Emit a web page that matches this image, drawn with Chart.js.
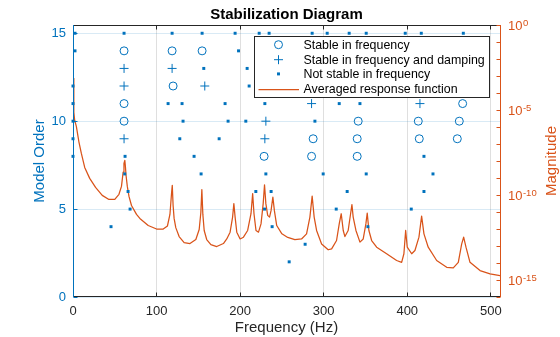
<!DOCTYPE html>
<html>
<head>
<meta charset="utf-8">
<script src="https://cdn.jsdelivr.net/npm/chart.js@4/dist/chart.umd.min.js"></script>
<style>
  html, body { margin: 0; padding: 0; background: #fff; }
  #wrap { width: 560px; height: 337px; }
</style>
</head>
<body>
<div id="wrap"><canvas id="c" width="560" height="337"></canvas></div>
<script>
const FONT = "'Liberation Sans', Arial, Helvetica, sans-serif";
const BLUE = '#0072BD';
const ORANGE = '#D95319';
const INK = '#262626';

// Axis ticks
const freqTicks = [0, 100, 200, 300, 400, 500];
const orderTicks = [0, 5, 10, 15];
const magDecades = [0, -1, -2, -3, -4, -5, -6, -7, -8, -9, -10, -11, -12, -13, -14, -15, -16];
const magLabelExps = [0, -5, -10, -15];

// Poles stable in frequency (Hz, model order)
const stableFreqHz    = [61.1, 118.6, 154.5, 119.8, 61.1, 466.3, 61.1, 341.3, 413.2, 462.3, 287.4, 340.1, 414.4, 459.9, 228.7, 285.5, 340.1];
const stableFreqOrder = [14,   14,    14,    12,    11,   11,    10,   10,    10,    10,    9,     9,     9,     9,     8,     8,     8];

// Poles stable in frequency and damping
const stableDampHz    = [61.1, 118.6, 61.1, 157.7, 285.5, 415.2, 230.8, 61.1, 229.6];
const stableDampOrder = [13,   13,    12,   12,    11,    11,    10,    9,    9];

// Poles not stable in frequency
const unstableHz = [
  2.4, 61.1, 118.6, 154.5, 194.0, 222.8, 234.7, 286.2, 304.2, 330.5, 350.9, 397.6, 416.8, 467.1,
  2.4, 198.1,
  156.5, 208.4,
  0, 210.8,
  0, 113.8, 130.5, 182.0, 229.6, 318.6, 343.4,
  0, 131.7, 185.6, 206.8, 289.5,
  0, 127.8, 174.9,
  0, 62.3, 144.9, 420.0,
  61.9, 153.3, 230.8, 299.4, 350.9, 430.8,
  65.9, 218.8, 237.1, 328.1, 420.0,
  68.3, 229.2, 315.0, 404.8,
  45.5, 238.3, 352.9,
  277.8,
  258.7
];
const unstableOrder = [
  15, 15, 15, 15, 15, 15, 15, 15, 15, 15, 15, 15, 15, 15,
  14, 14,
  13, 13,
  12, 12,
  11, 11, 11, 11, 11, 11, 11,
  10, 10, 10, 10, 10,
  9, 9, 9,
  8, 8, 8, 8,
  7, 7, 7, 7, 7, 7,
  6, 6, 6, 6, 6,
  5, 5, 5, 5,
  4, 4, 4,
  3,
  2
];

// Averaged response function (Hz, magnitude)
const curveHz = [
  0, 1, 2, 4, 7, 10, 14, 20, 27, 35,
  43, 50, 55, 58, 60, 61, 62, 62.7, 63.5, 65,
  67, 70, 76, 80, 90, 100, 108, 113, 116, 118,
  118.8, 119.8, 121, 123, 127, 133, 140, 147, 151, 153,
  154.2, 155.4, 157, 160, 165, 172, 180, 184, 188, 191,
  192.5, 194, 196, 200, 204, 209, 213, 215, 216.6, 219,
  222, 225, 227.6, 229.2, 230.8, 233, 235.2, 237, 239.2, 241,
  243.8, 250, 257, 265.5, 273.5, 279.5, 283.5, 286.2, 288.6, 291.5,
  297.5, 305.4, 309.5, 315.4, 318.6, 321, 323.4, 325.4, 329.3, 332.2,
  333.8, 335.3, 338.6, 343.4, 347.3, 350.5, 352.1, 354.1, 357.4, 363.4,
  375.3, 387.3, 393.3, 396, 398.1, 400, 405.3, 409.2, 414, 417.2,
  420, 425.1, 435.2, 447.2, 455.1, 461.1, 465.1, 467.5, 470.3, 475.1,
  487.1, 499.1, 511
];
const curveMag = [
  7.2e-4, 7.4e-6, 2.5e-6, 1.1e-6, 1.4e-7, 2.8e-8, 4.2e-9, 9.5e-10, 2.8e-10, 9.5e-11,
  5.5e-11, 5.5e-11, 1.1e-10, 3.2e-10, 2.2e-9, 7.3e-9, 1.1e-8, 4.9e-9, 1.4e-9, 3.2e-10,
  8.3e-11, 2.4e-11, 7.2e-12, 4.2e-12, 1.6e-12, 1.0e-12, 1.0e-12, 1.5e-12, 7.2e-12, 1.4e-10,
  3.7e-10, 2.4e-11, 4.2e-12, 1.2e-12, 3.6e-13, 1.6e-13, 1.4e-13, 2.4e-13, 9.4e-13, 9.4e-12,
  2.1e-10, 7.2e-12, 8.2e-13, 2.4e-13, 1.2e-13, 9.3e-14, 1.4e-13, 2.6e-13, 6.5e-13, 5.0e-12,
  3.1e-11, 5.0e-12, 6.5e-13, 2.6e-13, 3.3e-13, 8.2e-13, 7.9e-12, 1.2e-10, 7.9e-12, 8.2e-13,
  6.5e-13, 2.0e-12, 3.1e-11, 4.0e-10, 3.1e-11, 6.3e-12, 5.0e-12, 1.2e-11, 7.5e-11, 1.2e-11,
  1.6e-12, 5.2e-13, 3.2e-13, 2.4e-13, 2.6e-13, 5.2e-13, 5.0e-12, 8.6e-11, 5.0e-12, 8.2e-13,
  1.3e-13, 6.0e-14, 6.8e-14, 2.1e-13, 2.0e-12, 7.9e-12, 8.2e-13, 3.6e-13, 8.2e-13, 7.9e-12,
  2.7e-11, 5.0e-12, 8.2e-13, 1.7e-13, 2.6e-13, 2.0e-12, 8.6e-12, 8.2e-13, 2.1e-13, 8.5e-14,
  3.5e-14, 1.4e-14, 1.1e-14, 3.5e-14, 8.2e-13, 8.5e-14, 3.5e-14, 5.4e-14, 3.3e-13, 5.7e-12,
  5.2e-13, 8.5e-14, 1.4e-14, 5.6e-15, 5.2e-15, 1.1e-14, 1.3e-13, 3.3e-13, 8.5e-14, 1.1e-14,
  3.6e-15, 2.3e-15, 1.8e-15
];

const toPoints = (xs, ys) => xs.map((x, i) => ({ x: x, y: ys[i] }));

// Axis frame, inward tick marks, log tick labels, titles and boxed legend
const framePlugin = {
  id: 'frame',
  afterDatasetsDraw(chart) {
    const { ctx, chartArea: a, scales } = chart;
    const L = Math.round(a.left) + 0.5;
    const R = Math.round(a.right) + 0.5;
    const T = Math.round(a.top) + 0.5;
    const B = Math.round(a.bottom) - 0.5;
    const TL = 4;
    ctx.save();
    ctx.lineWidth = 1;

    // top and bottom rulers
    ctx.strokeStyle = INK;
    ctx.beginPath();
    ctx.moveTo(L, T); ctx.lineTo(R, T);
    ctx.moveTo(L, B); ctx.lineTo(R, B);
    freqTicks.forEach(v => {
      const px = Math.round(scales.x.getPixelForValue(v) - 0.5) + 0.5;
      ctx.moveTo(px, B); ctx.lineTo(px, B - TL);
      ctx.moveTo(px, T); ctx.lineTo(px, T + TL);
    });
    ctx.stroke();

    // left ruler (model order)
    ctx.strokeStyle = BLUE;
    ctx.beginPath();
    ctx.moveTo(L, T - 0.5); ctx.lineTo(L, B + 0.5);
    orderTicks.forEach(v => {
      const py = Math.round(scales.y.getPixelForValue(v) - 0.5) + 0.5;
      ctx.moveTo(L, py); ctx.lineTo(L + TL, py);
    });
    ctx.stroke();

    // right ruler (magnitude)
    ctx.strokeStyle = ORANGE;
    ctx.beginPath();
    ctx.moveTo(R, T - 0.5); ctx.lineTo(R, B + 0.5);
    magDecades.forEach(e => {
      const py = Math.round(scales.y2.getPixelForValue(Math.pow(10, e)) - 0.5) + 0.5;
      ctx.moveTo(R, py); ctx.lineTo(R - TL, py);
    });
    ctx.stroke();

    // magnitude labels: 10 with raised exponent
    ctx.fillStyle = ORANGE;
    ctx.textAlign = 'left';
    ctx.textBaseline = 'alphabetic';
    magLabelExps.forEach(e => {
      const py = scales.y2.getPixelForValue(Math.pow(10, e));
      const x0 = a.right + 8;
      ctx.font = `13px ${FONT}`;
      ctx.fillText('10', x0, py + 5);
      const w = ctx.measureText('10').width;
      ctx.font = `9.5px ${FONT}`;
      ctx.fillText(String(e), x0 + w + 0.5, py + 1);
    });

    // right axis title
    ctx.save();
    ctx.translate(552, (a.top + a.bottom) / 2);
    ctx.rotate(-Math.PI / 2);
    ctx.font = `15px ${FONT}`;
    ctx.textAlign = 'center';
    ctx.textBaseline = 'middle';
    ctx.fillStyle = ORANGE;
    ctx.fillText('Magnitude', 0, 0);
    ctx.restore();

    // boxed legend in the upper right of the plot
    const lx = 254.5, ly = 36.5, lw = 235, lh = 61;
    ctx.fillStyle = '#fff';
    ctx.fillRect(lx, ly, lw, lh);
    ctx.strokeStyle = INK;
    ctx.strokeRect(lx, ly, lw, lh);
    const mx = 278.5, tx = 303.5;
    const rowY = [44.7, 59.7, 73.9, 88.7];
    chart.data.datasets.forEach((ds, i) => {
      const y = rowY[i];
      ctx.strokeStyle = ds.borderColor;
      ctx.fillStyle = ds.backgroundColor;
      if (ds.showLine) {
        ctx.lineWidth = ds.borderWidth;
        ctx.beginPath();
        ctx.moveTo(258.5, Math.round(y) + 0.5); ctx.lineTo(299, Math.round(y) + 0.5);
        ctx.stroke();
      } else if (ds.pointStyle === 'circle') {
        ctx.lineWidth = 1;
        ctx.beginPath();
        ctx.arc(mx, y, ds.pointRadius, 0, Math.PI * 2);
        ctx.stroke();
      } else if (ds.pointStyle === 'cross') {
        ctx.lineWidth = 1;
        ctx.beginPath();
        ctx.moveTo(mx - ds.pointRadius, y); ctx.lineTo(mx + ds.pointRadius, y);
        ctx.moveTo(mx, y - ds.pointRadius); ctx.lineTo(mx, y + ds.pointRadius);
        ctx.stroke();
      } else {
        const s = ds.pointRadius * Math.SQRT1_2;
        ctx.fillRect(mx - s, y - s, 2 * s, 2 * s);
      }
      ctx.fillStyle = '#000';
      ctx.font = `12.4px ${FONT}`;
      ctx.textAlign = 'left';
      ctx.textBaseline = 'middle';
      ctx.fillText(ds.label, tx, y + 0.5);
    });
    ctx.restore();
  },
  afterDraw(chart) {
    const { ctx, chartArea: a } = chart;
    ctx.save();
    ctx.font = `bold 15px ${FONT}`;
    ctx.fillStyle = '#000';
    ctx.textAlign = 'center';
    ctx.textBaseline = 'alphabetic';
    ctx.fillText('Stabilization Diagram', (a.left + a.right) / 2, 18.5);
    ctx.restore();
  }
};

new Chart(document.getElementById('c'), {
  type: 'scatter',
  data: {
    datasets: [
      {
        label: 'Stable in frequency',
        data: toPoints(stableFreqHz, stableFreqOrder),
        pointStyle: 'circle', pointRadius: 4, borderWidth: 1,
        borderColor: BLUE, backgroundColor: 'rgba(0,0,0,0)',
        yAxisID: 'y', order: 0, clip: false
      },
      {
        label: 'Stable in frequency and damping',
        data: toPoints(stableDampHz, stableDampOrder),
        pointStyle: 'cross', pointRadius: 4.5, borderWidth: 1,
        borderColor: BLUE, backgroundColor: BLUE,
        yAxisID: 'y', order: 0, clip: false
      },
      {
        label: 'Not stable in frequency',
        data: toPoints(unstableHz, unstableOrder),
        pointStyle: 'rect', pointRadius: 2.1, borderWidth: 0,
        borderColor: BLUE, backgroundColor: BLUE,
        yAxisID: 'y', order: 0, clip: false
      },
      {
        label: 'Averaged response function',
        data: toPoints(curveHz, curveMag),
        showLine: true, pointRadius: 0, borderWidth: 1.25, tension: 0,
        borderColor: ORANGE, backgroundColor: ORANGE,
        borderJoinStyle: 'round',
        yAxisID: 'y2', order: 1
      }
    ]
  },
  options: {
    responsive: false,
    animation: false,
    devicePixelRatio: 1,
    events: [],
    layout: { padding: { top: 25, left: 0, right: 0, bottom: 0 } },
    plugins: { legend: { display: false }, tooltip: { enabled: false }, title: { display: false } },
    scales: {
      x: {
        type: 'linear', position: 'bottom', min: 0, max: 511,
        afterBuildTicks: s => { s.ticks = freqTicks.map(v => ({ value: v })); },
        afterFit: s => { s.height = 40; },
        grid: { color: 'rgba(38,38,38,0.15)', drawTicks: false },
        border: { display: false },
        ticks: { color: INK, font: { family: FONT, size: 13 }, padding: 7, maxRotation: 0, autoSkip: false },
        title: { display: true, text: 'Frequency (Hz)', color: INK, font: { family: FONT, size: 15 }, padding: { top: 0, bottom: 0 } }
      },
      y: {
        type: 'linear', position: 'left', min: 0, max: 15.47,
        afterBuildTicks: s => { s.ticks = orderTicks.map(v => ({ value: v })); },
        afterFit: s => { s.width = 73; },
        grid: { color: 'rgba(0,114,189,0.15)', drawTicks: false },
        border: { display: false },
        ticks: { color: BLUE, font: { family: FONT, size: 13 }, padding: 7, autoSkip: false },
        title: { display: true, text: 'Model Order', color: BLUE, font: { family: FONT, size: 15 }, padding: { top: 30.5, bottom: 0 } }
      },
      y2: {
        type: 'logarithmic', position: 'right', min: 1e-16, max: 1,
        afterBuildTicks: s => { s.ticks = magDecades.map(e => ({ value: Math.pow(10, e) })); },
        afterFit: s => { s.width = 60; },
        grid: { display: false, drawTicks: false },
        border: { display: false },
        ticks: { display: false }
      }
    }
  },
  plugins: [framePlugin]
});
</script>
</body>
</html>
